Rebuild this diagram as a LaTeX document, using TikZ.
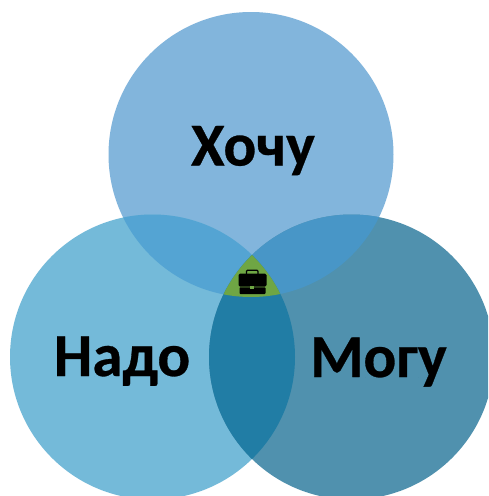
\documentclass[tikz,border=0pt]{standalone}
\usepackage{fontspec}
\setmainfont{Carlito}
\newfontfamily\heavy[FakeBold=0.5]{Carlito Bold}
\definecolor{cTop}{HTML}{82B5DC}
\definecolor{cLeft}{HTML}{74BAD9}
\definecolor{cRight}{HTML}{5091AE}
\definecolor{cTL}{HTML}{54A4D3}
\definecolor{cTR}{HTML}{4896C7}
\definecolor{cLR}{HTML}{217DA5}
\definecolor{cMid}{HTML}{6FA644}
\tikzset{
  lbl/.style={font=\fontsize{61}{61}\selectfont\heavy,text=black,inner sep=0pt,anchor=base},
  bag/.style={fill=black,draw=none}
}
\begin{document}
\begin{tikzpicture}[x=1pt,y=-1pt]
\useasboundingbox (0,0) rectangle (488,496);
\clip (0,0) rectangle (488,496);
\fill[white] (0,0) rectangle (488,496);
\def\ct{(251,154.5) circle[radius=142.5]}
\def\cl{(152.5,357) circle[radius=142.5]}
\def\cr{(351.5,357) circle[radius=142.5]}
\fill[cTop] \ct;
\fill[cLeft] \cl;
\fill[cRight] \cr;
\begin{scope}\clip \ct; \fill[cTL] \cl; \fill[cTR] \cr; \end{scope}
\begin{scope}\clip \cl; \fill[cLR] \cr; \end{scope}
\begin{scope}\clip \ct; \clip \cl; \fill[cMid] \cr; \end{scope}
% briefcase
\draw[black,line width=1.3pt,rounded corners=1pt] (246.5,275) -- (246.5,270.3) -- (258,270.3) -- (258,275);
\fill[bag,rounded corners=1.5pt] (238.5,273.5) rectangle (266.5,286.5);
\fill[bag,rounded corners=0.8pt] (239.5,287.3) rectangle (265.5,294);
\fill[cMid] (250.3,286) rectangle (254.3,289);
\node[lbl] (want) at (253,165.5) {Хочу};
\node[lbl] (need) at (122,376) {Надо};
\node[lbl] (can) at (378.5,377) {Могу};
\end{tikzpicture}
\end{document}
